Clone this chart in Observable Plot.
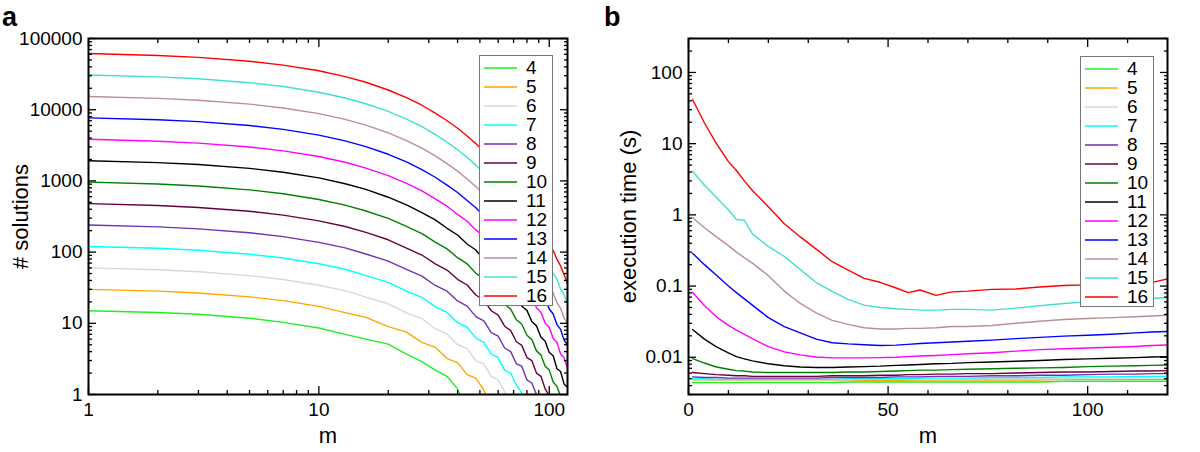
<!DOCTYPE html>
<html>
<head>
<meta charset="utf-8">
<script src="https://cdn.jsdelivr.net/npm/d3@7"></script>
<script src="https://cdn.jsdelivr.net/npm/@observablehq/plot@0.6"></script>
<style>
  html, body { margin: 0; padding: 0; background: #fff; }
  #fig { position: relative; width: 1200px; height: 452px; font-family: "Liberation Sans", Arial, sans-serif; color: #000; }
  .panel { position: absolute; top: 0; }
  .letter { position: absolute; font-weight: bold; font-size: 27px; line-height: 27px; }
  .legend { position: absolute; box-sizing: border-box; border: 1px solid #777; background: #fff; padding-top: 2px; }
  .row { display: flex; align-items: center; height: 19px; }
  .sw { display: block; margin-left: 4px; }
  .lab { margin-left: 9px; font-size: 19px; line-height: 19px; }
  #fig svg [aria-label$="tick label"], #fig svg [aria-label$="tick label"] text { font-size: 19px !important; font-family: "Liberation Sans", Arial, sans-serif !important; }
</style>
</head>
<body>
<div id="fig">
  <div id="pa" class="panel" style="left:0"></div>
  <div id="pb" class="panel" style="left:600px"></div>
  <div class="letter" style="left:2px;top:4px">a</div>
  <div class="letter" style="left:604px;top:4px">b</div>
  <div id="lega" class="legend" style="left:479px;top:55px;width:74px;height:251px"></div>
  <div id="legb" class="legend" style="left:1080px;top:56px;width:74px;height:251px"></div>
</div>
<script>
// ---------- categories ----------
const N = [4, 5, 6, 7, 8, 9, 10, 11, 12, 13, 14, 15, 16];
const COLORS = ["#22ee22", "#ffa500", "#d8d8d8", "#00ffff", "#7030b0", "#66003d", "#008000",
                "#000000", "#ff00ff", "#0000ff", "#bc8f8f", "#40e0d0", "#ff0000"];

// ---------- panel a: # solutions vs m ----------
const M_A = [1,2,3,5,7,10,13,16,20,24,28,32,36,40,44,48,52,56,60,64,68,72,76,80,84,88,92,96,100,104,108,112,116,120];
const sol4  = [15,14.2,13.4,11.8,10.3,8.6,7.0,6.0,5.1,3.7,2.9,2.2,1.8,1.2,0.6];
const sol5  = [30,28.3,26.6,23.5,20.8,17.3,14.1,12.1,9.0,7.5,5.4,4.6,3.2,2.8,1.9,1.7,1.15,0.7];
const sol6  = [60,56.5,53,46.8,41.2,34.2,28.8,23.3,18.8,14.0,11.6,8.4,7.1,5.0,4.4,3.0,2.7,1.8,1.6,1.1,0.7];
const sol7  = [120,113,106,93.5,82.5,68.5,57.5,46.8,37.5,28.2,23.2,17.0,14.2,10.2,8.8,6.2,5.4,3.7,3.3,2.2,2.0,1.35,1.05,0.7];
const sol8  = [240,226,212,187,165,137,114.5,94,74.5,57,46,34,28.2,20.6,17.4,12.4,10.8,7.4,6.6,4.5,4.0,2.7,2.5,1.6,1.45,1.0,0.6];
const sol9  = [480,451,424,374,331,275,229,189,149,114,91,68.5,56,41.5,34.5,25,21.2,15,13.0,9.1,7.9,5.5,4.9,3.3,3.0,2.0,1.8,1.2,0.95,0.6];
const sol10 = [960,903,849,749,661,549,457,378,297,229,182,138,111,83.5,68.5,50.5,42,30.5,26,18.5,15.8,11.2,9.7,6.8,5.9,4.1,3.6,2.5,2.2,1.5,1.3,0.95,0.6];
const sol11 = [1920,1805,1697,1498,1322,1101,911,759,590,462,358,283,216,174,130,107,78.5,66,47.5,40.5,28.8,24.5,17.4,15.2,10.6,9.2,6.4,5.6,3.9,3.5,2.3,2.1,1.4,1.25];
const sol12 = [3840,3610,3395,2995,2645,2200,1825,1515,1185,920,725,558,441,338,271,205,166,123,102,74,62.5,45,38,27.2,23.4,16.5,14.3,10,8.8,6.1,5.4,3.7,3.3,2.3];
const sol13 = [7680,7220,6790,5990,5290,4400,3650,3030,2365,1845,1440,1125,872,688,530,420,321,257,194,157,118,96,71,59,43,36,26.2,22,15.9,13.5,9.6,8.2,5.8,4.9];
const sol14 = [15360,14440,13580,11980,10580,8800,7300,6065,4730,3690,2885,2245,1750,1372,1065,836,647,510,393,312,238,190,144,117,87,71.5,53,43.5,32.3,26.5,19.5,16.2,11.9,9.9];
const sol15 = [30720,28880,27160,23960,21170,17600,14590,12130,9460,7370,5780,4480,3505,2735,2138,1665,1302,1010,796,613,486,371,297,225,181,136,111,82.5,68,50,41.5,30.2,25.4,18.6];
const sol16 = [61440,57750,54310,47920,42330,35200,29180,24270,18920,14750,11550,8970,7000,5480,4265,3340,2595,2030,1582,1238,962,752,585,460,355,281,215,172,131,105,79,64,48,36];
const solSeries = [sol4,sol5,sol6,sol7,sol8,sol9,sol10,sol11,sol12,sol13,sol14,sol15,sol16];

// ---------- panel b: execution time (s) vs m ----------
const M_B = [1,4,7,10,12,14,16,20,24,28,32,36,40,44,48,52,55,58,62,66,70,76,82,88,94,100,106,112,116,120];
const t4  = [0.0044,0.0044,0.0044,0.0044,0.0044,0.0044,0.0044,0.0044,0.0044,0.0044,0.0044,0.0044,0.0045,0.0045,0.0045,0.0045,0.0045,0.0045,0.0045,0.0045,0.0045,0.0045,0.0045,0.0045,0.0046,0.0046,0.0046,0.0046,0.0046,0.0046];
const t5  = [0.0047,0.0047,0.0047,0.0047,0.0047,0.0047,0.0047,0.0047,0.0047,0.0047,0.0047,0.0047,0.0047,0.0047,0.0047,0.0047,0.0048,0.0048,0.0048,0.0048,0.0048,0.0048,0.0048,0.0048,0.0049,0.0049,0.0049,0.0049,0.0049,0.0049];
const t6  = [0.0048,0.0048,0.0048,0.0048,0.0048,0.0048,0.0048,0.0048,0.0048,0.0048,0.0048,0.0048,0.0048,0.0049,0.0049,0.0049,0.0049,0.0049,0.0049,0.0049,0.005,0.005,0.005,0.005,0.005,0.0051,0.0051,0.0051,0.0051,0.0051];
const t7  = [0.005,0.005,0.0049,0.0049,0.0049,0.0049,0.0049,0.0049,0.0049,0.0049,0.0049,0.0049,0.005,0.005,0.005,0.005,0.005,0.0051,0.0051,0.0051,0.0051,0.0052,0.0052,0.0052,0.0053,0.0053,0.0053,0.0054,0.0054,0.0054];
const t8  = [0.0053,0.0052,0.0052,0.0051,0.0051,0.0051,0.0051,0.0051,0.0051,0.0051,0.0051,0.0052,0.0052,0.0052,0.0052,0.0053,0.0053,0.0053,0.0054,0.0054,0.0054,0.0055,0.0055,0.0056,0.0056,0.0057,0.0058,0.0058,0.0059,0.0059];
const t9  = [0.0061,0.0059,0.0057,0.0056,0.0055,0.0055,0.0054,0.0054,0.0054,0.0054,0.0054,0.0055,0.0055,0.0055,0.0056,0.0056,0.0057,0.0057,0.0058,0.0058,0.0059,0.0059,0.006,0.0061,0.0062,0.0062,0.0063,0.0064,0.0064,0.0065];
const t10 = [0.0096,0.0083,0.0073,0.0068,0.0065,0.0064,0.0062,0.0061,0.0061,0.0061,0.0061,0.0061,0.0062,0.0062,0.0063,0.0064,0.0065,0.0066,0.0066,0.0067,0.0068,0.0069,0.007,0.0071,0.0072,0.0074,0.0075,0.0076,0.0077,0.0078];
const t11 = [0.0245,0.018,0.014,0.0115,0.0102,0.0095,0.0089,0.0081,0.0076,0.0073,0.0072,0.0072,0.0073,0.0074,0.0075,0.0077,0.0078,0.0079,0.0081,0.0082,0.0084,0.0086,0.0088,0.009,0.0093,0.0095,0.0097,0.0099,0.0101,0.0102];
const t12 = [0.082,0.053,0.037,0.028,0.024,0.021,0.0183,0.0141,0.0119,0.0108,0.0101,0.0098,0.0098,0.0098,0.0099,0.01,0.0102,0.0104,0.0106,0.0109,0.0112,0.0116,0.0122,0.0128,0.0132,0.0135,0.0138,0.0142,0.0146,0.0149];
const t13 = [0.29,0.2,0.142,0.1,0.081,0.066,0.054,0.036,0.027,0.022,0.018,0.016,0.0154,0.015,0.0146,0.0148,0.0152,0.0156,0.016,0.0164,0.0168,0.0174,0.0183,0.019,0.0198,0.0204,0.0211,0.022,0.0226,0.023];
const t14 = [0.92,0.66,0.49,0.37,0.3,0.25,0.21,0.14,0.085,0.057,0.042,0.033,0.029,0.026,0.025,0.025,0.0255,0.0255,0.026,0.027,0.027,0.028,0.03,0.032,0.034,0.035,0.036,0.037,0.038,0.039];
const t15 = [4.1,2.6,1.75,1.18,0.86,0.84,0.54,0.36,0.26,0.17,0.112,0.084,0.065,0.054,0.05,0.048,0.047,0.046,0.046,0.047,0.047,0.046,0.049,0.053,0.057,0.06,0.063,0.065,0.067,0.069];
const t16 = [42,19.5,10,5.6,4.2,3.0,2.2,1.3,0.75,0.49,0.33,0.22,0.168,0.128,0.113,0.094,0.081,0.088,0.074,0.083,0.085,0.09,0.091,0.097,0.102,0.104,0.106,0.109,0.112,0.126];
const timeSeries = [t4,t5,t6,t7,t8,t9,t10,t11,t12,t13,t14,t15,t16];

// ---------- tick labels ----------
const A_X_MAJOR = [1, 10, 100];
const A_Y_MAJOR = [1, 10, 100, 1000, 10000, 100000];
const B_X_MAJOR = [0, 50, 100];
const B_Y_MAJOR = [0.01, 0.1, 1, 10, 100];

// minor log ticks (2..9 × decade), kept within domain
function logMinor(decades, lo, hi) {
  const out = [];
  for (const d of decades) for (let k = 2; k <= 9; k++) { const v = +(k * d).toPrecision(6); if (v > lo && v < hi) out.push(v); }
  return out;
}
const A_X_MINOR = logMinor([1, 10, 100], 1, 120);
const A_Y_MINOR = logMinor([1, 10, 100, 1000, 10000], 1, 100000);
const B_Y_MINOR = logMinor([0.001, 0.01, 0.1, 1, 10, 100], 0.003 - 1e-9, 300 + 1e-9);
const B_X_MINOR = d3.range(10, 120, 10).filter(v => !B_X_MAJOR.includes(v));

const rowsA = N.flatMap((n, i) => solSeries[i].map((v, j) => ({n, m: M_A[j], v})));
const rowsB = N.flatMap((n, i) => timeSeries[i].map((v, j) => ({n, m: M_B[j], v})));

const FONT = "'Liberation Sans', Arial, Helvetica, sans-serif";

function frameTicks(xMajor, xMinor, yMajor, yMinor) {
  const sw = 1.3;
  const o = (anchor, ticks, size) => {
    const off = {left: {dx: size}, right: {dx: -size}, top: {dy: size}, bottom: {dy: -size}}[anchor];
    const f = (anchor === "left" || anchor === "right") ? Plot.axisY : Plot.axisX;
    return f({ticks, anchor, tickSize: size, fill: "none", strokeWidth: sw, label: null, ...off});
  };
  return [
    o("bottom", xMajor, 8), o("bottom", xMinor, 4), o("top", xMajor, 8), o("top", xMinor, 4),
    o("left", yMajor, 8), o("left", yMinor, 4), o("right", yMajor, 8), o("right", yMinor, 4)
  ];
}

function makePanel({rows, xScale, yScale, xMajor, xMinor, yMajor, yMinor, yTitle, yTitleDx}) {
  return Plot.plot({
    width: 600, height: 452,
    marginLeft: 88, marginRight: 33, marginTop: 38, marginBottom: 58,
    style: {fontFamily: FONT, fontSize: "19px", color: "#000", background: "transparent", overflow: "visible"},
    x: xScale, y: yScale,
    color: {type: "ordinal", domain: N, range: COLORS},
    marks: [
      Plot.line(rows, {x: "m", y: "v", z: "n", stroke: "n", strokeWidth: 1.4, clip: true}),
      Plot.frame({stroke: "#000", strokeWidth: 2}),
      ...frameTicks(xMajor, xMinor, yMajor, yMinor),
      Plot.axisX({ticks: xMajor, anchor: "bottom", tickSize: 0, tickPadding: 8, fontSize: 19, tickFormat: d => String(d), label: null}),
      Plot.axisY({ticks: yMajor, anchor: "left", tickSize: 0, tickPadding: 6, fontSize: 19, tickFormat: d => String(d), label: null}),
      Plot.text(["m"], {text: d => d, frameAnchor: "bottom", lineAnchor: "bottom", dy: 48, fontSize: 22}),
      Plot.text([yTitle], {text: d => d, frameAnchor: "left", rotate: -90, lineAnchor: "bottom", textAnchor: "middle", dx: yTitleDx, fontSize: 22})
    ]
  });
}

document.getElementById("pa").append(makePanel({
  rows: rowsA,
  xScale: {type: "log", domain: [1, 120]},
  yScale: {type: "log", domain: [1, 100000]},
  xMajor: A_X_MAJOR, xMinor: A_X_MINOR, yMajor: A_Y_MAJOR, yMinor: A_Y_MINOR,
  yTitle: "# solutions", yTitleDx: -61
}));

document.getElementById("pb").append(makePanel({
  rows: rowsB,
  xScale: {type: "linear", domain: [0, 120]},
  yScale: {type: "log", domain: [0.003, 300]},
  xMajor: B_X_MAJOR, xMinor: B_X_MINOR, yMajor: B_Y_MAJOR, yMinor: B_Y_MINOR,
  yTitle: "execution time (s)", yTitleDx: -53
}));

function buildLegend(id) {
  const box = document.getElementById(id);
  const ns = "http://www.w3.org/2000/svg";
  N.forEach((n, i) => {
    const row = document.createElement("div");
    row.className = "row";
    const svg = document.createElementNS(ns, "svg");
    svg.setAttribute("class", "sw");
    svg.setAttribute("width", "33");
    svg.setAttribute("height", "4");
    const ln = document.createElementNS(ns, "line");
    ln.setAttribute("x1", "0"); ln.setAttribute("x2", "33");
    ln.setAttribute("y1", "2"); ln.setAttribute("y2", "2");
    ln.setAttribute("stroke", COLORS[i]);
    ln.setAttribute("stroke-width", "1.6");
    svg.append(ln);
    const lab = document.createElement("span");
    lab.className = "lab";
    lab.textContent = String(n);
    row.append(svg, lab);
    box.append(row);
  });
}
buildLegend("lega");
buildLegend("legb");
</script>
</body>
</html>
